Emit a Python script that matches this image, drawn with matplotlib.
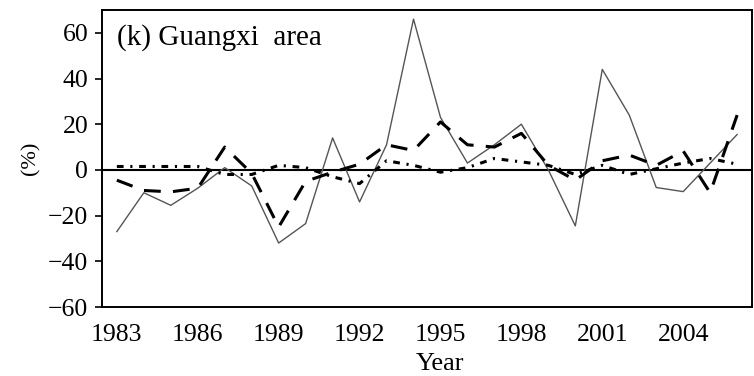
import matplotlib
matplotlib.use("Agg")
import matplotlib.pyplot as plt

plt.rcParams['font.family'] = ['Liberation Serif', 'DejaVu Serif']

years = list(range(1983, 2007))
solid_vals = [-27, -10, -15.5, -8, 1, -7, -32, -23.5, 14, -14, 11, 66,
              23, 3, 11, 20, 0, -24.5, 44, 24, -7.7, -9.5, 3, 15.5]
dashed_vals = [-4.5, -9, -9.6, -8, 10, -1.5, -25, -5, -1, 2.5, 11, 8.5,
               21, 11, 10, 16, 2, -4.5, 4, 6.5, 2, 8.3, -10, 24]
dashdot_vals = [1.5, 1.5, 1.5, 1.5, -2, -2, 2, 1, -3, -6, 4, 2,
                -1, 1, 5, 3.5, 2, -2, 2, -2, 0.5, 3, 5, 2.5]
year_ticks = [1983, 1986, 1989, 1992, 1995, 1998, 2001, 2004]
pct_ticks = [-60, -40, -20, 0, 20, 40, 60]

fig = plt.figure(figsize=(7.54, 3.76), dpi=100)
ax = fig.add_axes([0.1353, 0.1835, 0.862, 0.790])

ax.axhline(0, color='black', lw=1.5, zorder=1)
ax.plot(years, solid_vals, color='#555555', lw=1.0, zorder=3)
ax.plot(years, dashed_vals, color='black', lw=2.2, dashes=(5.5, 4), zorder=4)
ax.plot(years, dashdot_vals, color='black', lw=2.2, dashes=(2.2, 2.2, 0.7, 2.2), zorder=4)

ax.set_xlim(1982.45, 2006.55)
ax.set_ylim(-60, 70)
ax.set_xticks(year_ticks)
ax.set_yticks(pct_ticks)
ax.tick_params(axis='x', length=0, pad=12, labelsize=18.5)
ax.tick_params(axis='y', direction='out', length=5, width=1.2, pad=5, labelsize=18.5)
for side in ax.spines.values():
    side.set_linewidth(1.4)

ax.set_xlabel('Year', fontsize=19)
ax.xaxis.set_label_coords(0.52, -0.155)
ax.set_ylabel('(%)', fontsize=16, labelpad=5)

fig.text(0.155, 0.900, '(k) Guangxi  area', fontsize=21, ha='left', va='center')

fig.savefig('out.png', dpi=100)
